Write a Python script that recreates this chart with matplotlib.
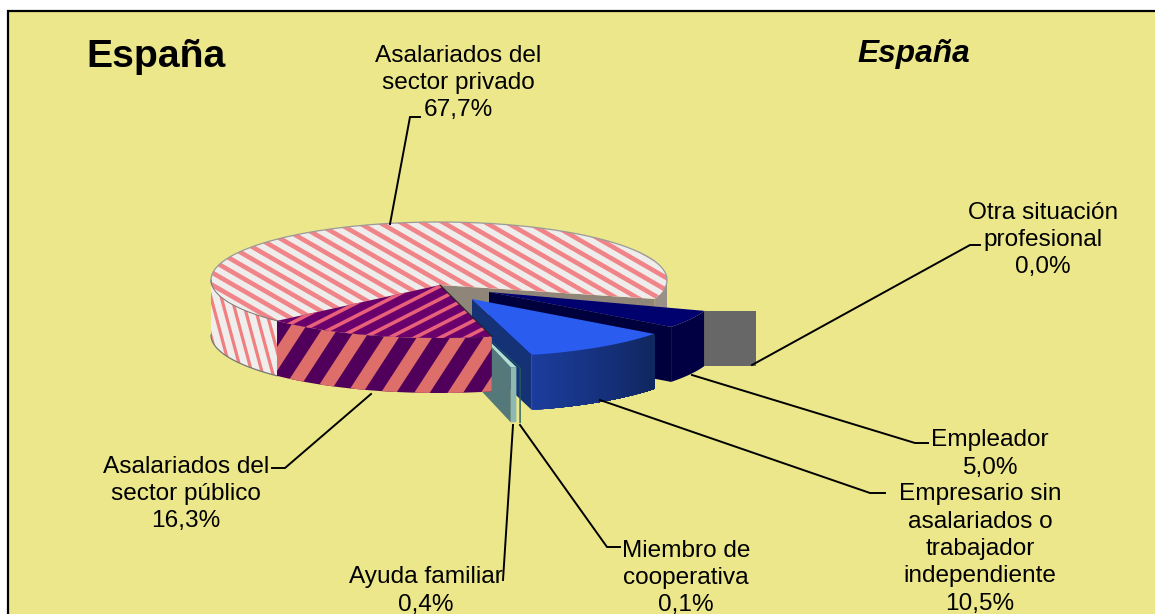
import numpy as np
import matplotlib
matplotlib.use("Agg")
import matplotlib.pyplot as plt
from matplotlib.patches import Polygon, Rectangle
from matplotlib.collections import LineCollection

plt.rcParams['font.family'] = ['Liberation Sans', 'DejaVu Sans']

# datos
categories = ["Asalariados del\nsector privado",
              "Asalariados del\nsector público",
              "Ayuda familiar",
              "Miembro de\ncooperativa",
              "Empresario sin\nasalariados o\ntrabajador\nindependiente",
              "Empleador",
              "Otra situación\nprofesional"]
values = [67.7, 16.3, 0.4, 0.1, 10.5, 5.0, 0.0]
title = "España"

# geometria de la tarta, en pixeles
A, B, DEPTH = 228, 58, 55
START = -19
centers = [(439, 280), (439, 280), (458, 311), (461, 312), (472, 299), (489, 292), (540, 292)]
apexes = [(440, 285), (440, 285), (458, 311), (461, 312), (472, 299), (489, 292), (540, 292)]

angles = START + np.concatenate([[0], np.cumsum(values)]) * 3.6


def rim(i, t):
    t = np.radians(np.asarray(t, dtype=float))
    cx, cy = centers[i]
    return np.column_stack([cx + A * np.cos(t), cy - B * np.sin(t)])


def arc(i, t0, t1):
    return rim(i, np.linspace(t0, t1, max(2, int(abs(t1 - t0) * 2) + 2)))


def down(pts):
    return np.asarray(pts, dtype=float) + [0, DEPTH]


def band(pts):
    return np.vstack([pts, down(pts)[::-1]])


def fill(verts, color, z, edge='none', lw=0):
    p = Polygon(verts, closed=True, facecolor=color, edgecolor=edge, linewidth=lw, zorder=z)
    ax.add_patch(p)
    return p


def striped(verts, bg, fg, angle, spacing, width, z):
    # rayas paralelas recortadas con el poligono
    p = fill(verts, bg, z)
    verts = np.asarray(verts)
    mid = verts.mean(axis=0)
    r = np.hypot(*(verts.max(axis=0) - verts.min(axis=0)))
    t = np.radians(angle)
    d = np.array([np.cos(t), -np.sin(t)])
    n = np.array([np.sin(t), np.cos(t)])
    segs = []
    for k in np.arange(-r, r, spacing):
        segs.append([mid + n * k - d * r, mid + n * k + d * r])
    lc = LineCollection(segs, colors=fg, linewidths=width * 0.72, zorder=z)
    ax.add_collection(lc)
    lc.set_clip_path(p)


def gradient_band(pts, c0, c1, z):
    c0, c1 = np.array(matplotlib.colors.to_rgb(c0)), np.array(matplotlib.colors.to_rgb(c1))
    n = len(pts) - 1
    # cada tramo pisa al siguiente para que no se vean juntas
    for k in range(n):
        fill(band(pts[k:]), c0 + (c1 - c0) * k / max(n - 1, 1), z)


fig = plt.figure(figsize=(11.55, 6.14), dpi=100)
ax = fig.add_axes([0, 0, 1, 1])
ax.set_xlim(0, 1155)
ax.set_ylim(614, 0)
ax.axis('off')

ax.add_patch(Rectangle((8, 11), 1160, 620, facecolor='#EBE78A', edgecolor='black', linewidth=1.6, zorder=0))

# sector privado
t0, t1 = angles[0], angles[1]
top = np.vstack([apexes[0], arc(0, t0, t1)])
striped(band(arc(0, 180, t1)), '#F0EEEC', '#F08080', -75, 10, 3.2, 2)
fill(band(arc(0, t0, 0)), '#9A9088', 2)
fill(np.vstack([apexes[0], arc(0, t0, t0), down(arc(0, t0, t0))[::-1], down([apexes[0]])]), '#8F8578', 2)
striped(top, '#EFEDEB', '#F08488', -30, 10.6, 4.6, 3)
ax.plot(*arc(0, -10, 185).T, color='#9a9a9a', lw=0.9, zorder=4)
ax.plot(*arc(0, 180, t1).T, color='#777777', lw=0.7, zorder=4)
ax.plot(*down(arc(0, 180, t1)).T, color='#777777', lw=0.9, zorder=4)

# otra situacion: sector de 0,0 %, solo se ve la cara que asoma tras el empleador
a6 = angles[6]
p6 = np.vstack([rim(5, [a6]), rim(6, [a6])])
fill(band(p6), '#676767', 5)

# empleador
t0, t1 = angles[5], angles[6]
pts = arc(5, t0, t1)
fill(np.vstack([apexes[5], pts[0], down(pts[:1]), down([apexes[5]])]), '#00003C', 6)
fill(band(pts), '#000042', 6)
fill(np.vstack([apexes[5], pts]), '#00006E', 7)

# empresario sin asalariados
t0, t1 = angles[4], angles[5]
pts = arc(4, t0, t1)
fill(np.vstack([apexes[4], pts[0], down(pts[:1]), down([apexes[4]])]), '#163277', 8)
gradient_band(pts, '#1B3C9C', '#10275F', 8)
fill(np.vstack([apexes[4], pts]), '#2A5CF0', 9)

# miembro de cooperativa
t0, t1 = angles[3], angles[4]
pts = arc(3, t0, t1)
fill(band(pts), '#1F5F5A', 10)
fill(np.vstack([apexes[3], pts]), '#1F5F5A', 10)

# ayuda familiar
t0, t1 = angles[2], angles[3]
pts = arc(2, t0, t1)
fill(np.vstack([apexes[2], pts[0], down(pts[:1]), down([apexes[2]])]), '#55787A', 11)
fill(band(pts), '#8FB8B0', 11)
fill(np.vstack([apexes[2], pts]), '#B4DED0', 12)

# sector publico
t0, t1 = angles[1], angles[2]
striped(band(arc(1, t0, t1)), '#50005A', '#DE6E6A', 57, 28, 13, 13)
striped(np.vstack([apexes[1], arc(1, t0, t1)]), '#6A006C', '#E8607A', 27, 11.5, 3.6, 14)
ax.plot(*np.vstack([apexes[1], rim(1, [t1])]).T, color='#222222', lw=0.8, zorder=15)

# lineas guia
leaders = [[(390, 224), (410, 117), (420, 117)],
           [(371, 394), (285, 468), (272, 468)],
           [(513, 425), (503, 580)],
           [(520, 425), (607, 547), (620, 547)],
           [(600, 400), (870, 493), (885, 493)],
           [(692, 375), (915, 443), (928, 443)],
           [(752, 365), (970, 245), (980, 245)]]
for line in leaders:
    ax.plot(*zip(*line), color='black', lw=1.4, zorder=16, solid_joinstyle='miter')

# etiquetas
label_pos = [(458, 83), (186, 494), (426, 591), (686, 578), (980, 549), (990, 454), (1043, 240)]
for name, v, (x, y) in zip(categories, values, label_pos):
    txt = name + "\n" + f"{v:.1f}".replace('.', ',') + "%"
    ax.text(x, y, txt, ha='center', va='center', fontsize=17.6, linespacing=1.32, color='black', zorder=20)

ax.text(156, 57, title, ha='center', va='center', fontsize=28.2, fontweight='bold', color='black', zorder=20)
ax.text(914, 54, title, ha='center', va='center', fontsize=22.8, fontweight='bold', style='italic', color='black', zorder=20)

fig.savefig('out.png', dpi=100)
